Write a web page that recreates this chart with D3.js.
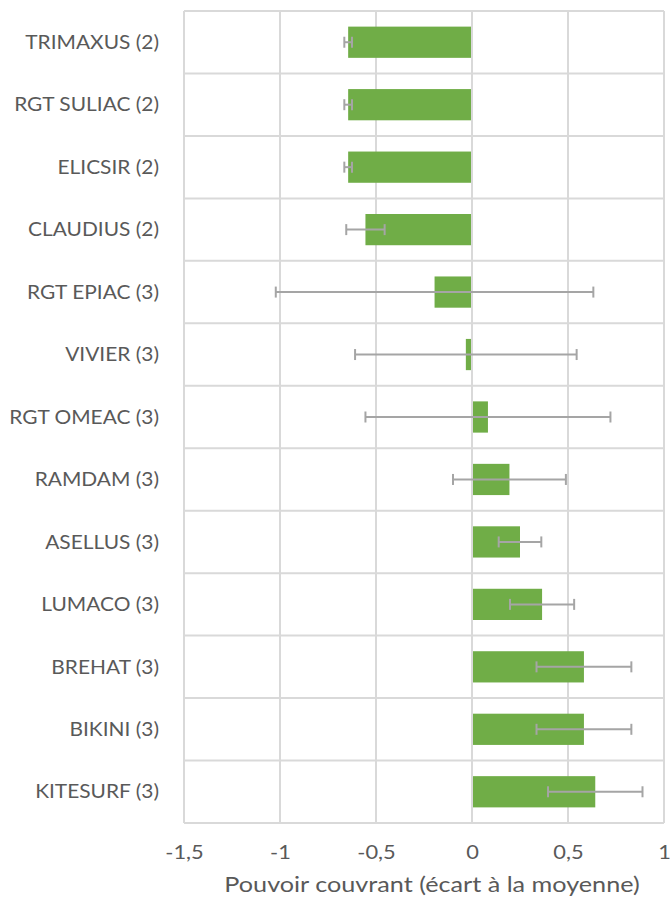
<!DOCTYPE html>
<html>
  <head>
    <meta charset="utf-8">
    <title>Pouvoir couvrant</title>
    <script src="https://d3js.org/d3.v7.min.js"></script>
    <style>
      body { margin: 0; background: #fff; }
      text { font-family: Lato, "Liberation Sans", sans-serif; fill: #595959; }
    </style>
  </head>
  <body>
    <div id="chart"></div>
    <script>
      // data
      var varieties = ["TRIMAXUS (2)", "RGT SULIAC (2)", "ELICSIR (2)", "CLAUDIUS (2)", "RGT EPIAC (3)",
        "VIVIER (3)", "RGT OMEAC (3)", "RAMDAM (3)", "ASELLUS (3)", "LUMACO (3)", "BREHAT (3)",
        "BIKINI (3)", "KITESURF (3)"];
      var values = [-0.645, -0.645, -0.645, -0.555, -0.195, -0.032, 0.083, 0.195, 0.25, 0.365, 0.583, 0.583, 0.642];
      var errors = [0.02, 0.02, 0.02, 0.10, 0.827, 0.577, 0.638, 0.294, 0.111, 0.167, 0.247, 0.247, 0.246];
      var xTicks = [-1.5, -1, -0.5, 0, 0.5, 1];
      var xTitle = "Pouvoir couvrant (écart à la moyenne)";

      var width = 671, height = 899;
      var margin = { top: 11, right: 7, bottom: 76, left: 184 };

      var svg = d3.select("#chart")
        .append("svg")
        .attr("width", width)
        .attr("height", height);

      var x = d3.scaleLinear()
        .domain([-1.5, 1])
        .range([margin.left, width - margin.right]);
      // rows for the grid, bars inset half a row
      var rows = d3.scaleBand()
        .domain(varieties)
        .range([margin.top, height - margin.bottom]);
      var y = d3.scaleBand()
        .domain(varieties)
        .range([margin.top, height - margin.bottom])
        .paddingInner(0.5)
        .paddingOuter(0.25);

      // grid
      var grid = svg.append("g").attr("stroke", "#d9d9d9").attr("stroke-width", 2);
      grid.selectAll(".v")
        .data(xTicks)
        .enter().append("line")
          .attr("x1", function(d) { return x(d); })
          .attr("x2", function(d) { return x(d); })
          .attr("y1", margin.top)
          .attr("y2", height - margin.bottom);
      grid.selectAll(".h")
        .data(varieties.concat([null]))
        .enter().append("line")
          .attr("x1", margin.left)
          .attr("x2", width - margin.right)
          .attr("y1", function(d) { return d === null ? rows.range()[1] : rows(d); })
          .attr("y2", function(d) { return d === null ? rows.range()[1] : rows(d); });

      // bars
      svg.append("g")
        .selectAll("rect")
        .data(varieties)
        .enter().append("rect")
          .attr("fill", "#70ad47")
          .attr("y", function(d) { return y(d); })
          .attr("height", y.bandwidth())
          .attr("x", function(d, i) { return values[i] < 0 ? x(values[i]) : x(0) + 1; })
          .attr("width", function(d, i) { return Math.max(0, Math.abs(x(values[i]) - x(0)) - 1); });

      // error bars
      var err = svg.append("g")
        .attr("stroke", "#a5a5a5")
        .attr("stroke-width", 2)
        .selectAll("g")
        .data(varieties)
        .enter().append("g")
          .attr("transform", function(d) { return "translate(0," + (y(d) + y.bandwidth() / 2) + ")"; });
      err.append("line")
        .attr("x1", function(d, i) { return x(values[i] - errors[i]); })
        .attr("x2", function(d, i) { return x(values[i] + errors[i]); });
      err.append("line")
        .attr("x1", function(d, i) { return x(values[i] - errors[i]); })
        .attr("x2", function(d, i) { return x(values[i] - errors[i]); })
        .attr("y1", -5.5).attr("y2", 5.5);
      err.append("line")
        .attr("x1", function(d, i) { return x(values[i] + errors[i]); })
        .attr("x2", function(d, i) { return x(values[i] + errors[i]); })
        .attr("y1", -5.5).attr("y2", 5.5);

      // category labels (text is a bit wide in the original, stretch it)
      svg.append("g")
        .selectAll("text")
        .data(varieties)
        .enter().append("text")
          .attr("transform", function(d) { return "translate(159," + (rows(d) + rows.bandwidth() / 2) + ") scale(1.1,1)"; })
          .attr("dy", "0.35em")
          .attr("text-anchor", "end")
          .style("font-size", "19px")
          .text(function(d) { return d; });

      // x axis labels
      var xAxis = d3.axisBottom(x)
        .tickValues(xTicks)
        .tickSize(0)
        .tickPadding(0)
        .tickFormat(function(d) { return String(d).replace(".", ","); });
      svg.append("g")
        .attr("transform", "translate(0,846)")
        .call(xAxis)
        .call(function(g) { g.select(".domain").remove(); })
        .selectAll("text")
          .attr("dy", "0.71em")
          .attr("transform", "scale(1.15,1)")
          .style("font-size", "19px")
          .style("font-family", "Lato, sans-serif")
          .attr("fill", "#595959");

      // axis title
      svg.append("text")
        .attr("transform", "translate(432,892) scale(1.2,1)")
        .attr("text-anchor", "middle")
        .style("font-size", "21px")
        .text(xTitle);
    </script>
  </body>
</html>
